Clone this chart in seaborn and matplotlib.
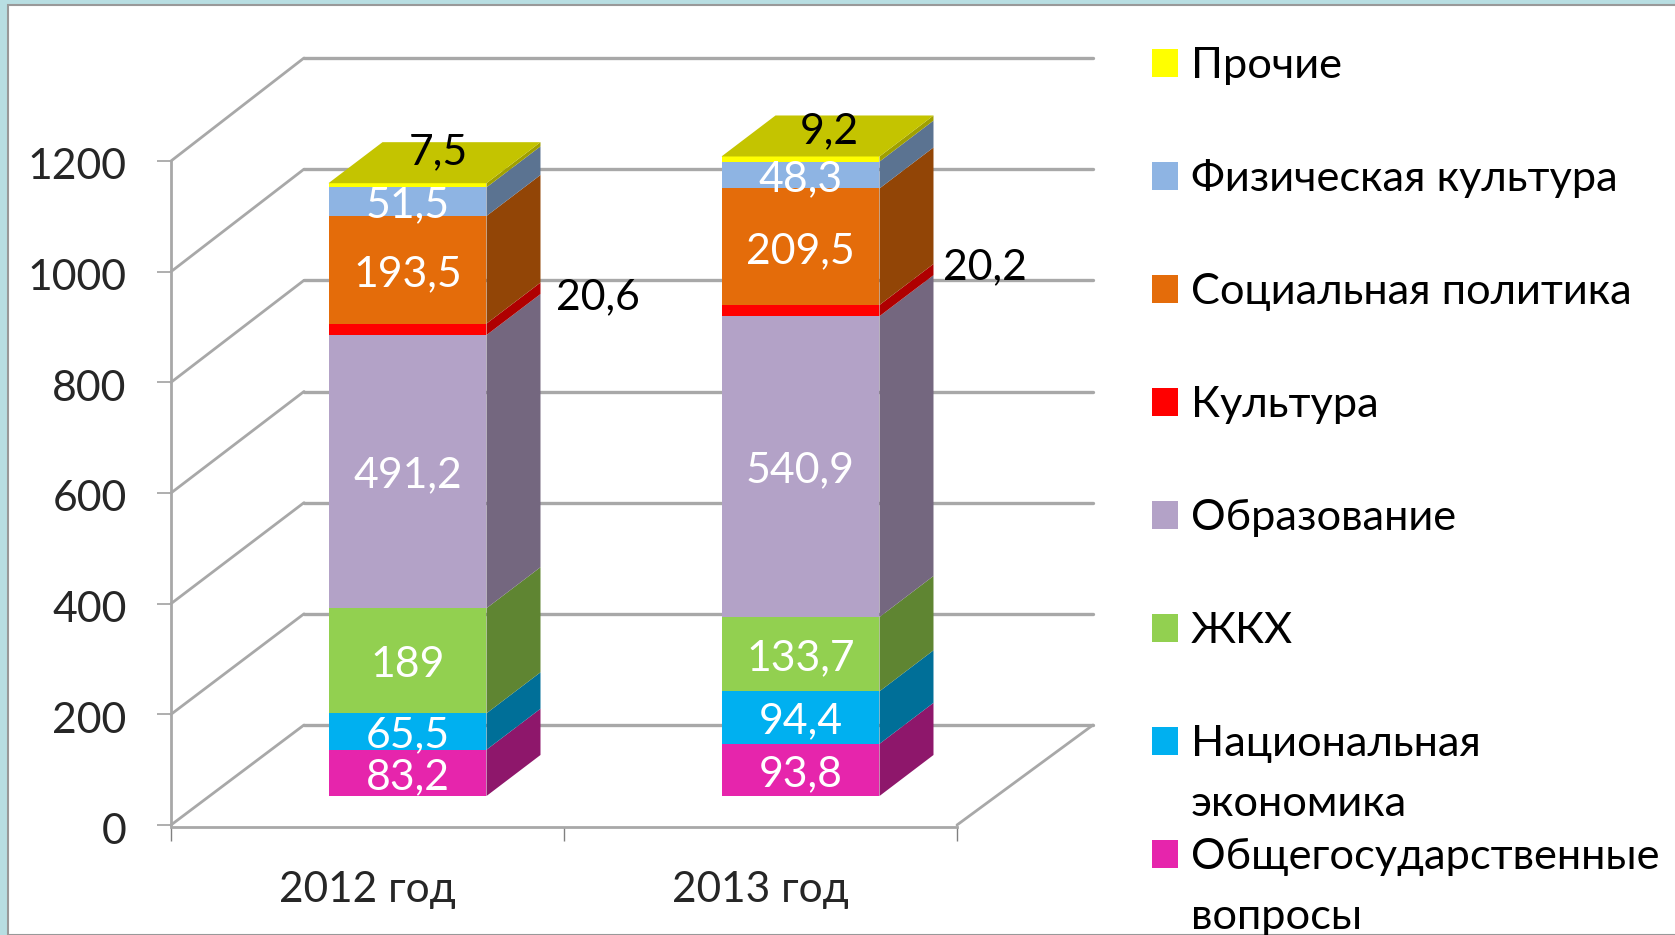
import matplotlib
matplotlib.use("Agg")
import matplotlib.pyplot as plt
import numpy as np
import seaborn as sns
from matplotlib.lines import Line2D
from matplotlib.patches import Polygon, Rectangle
from matplotlib.transforms import Affine2D, IdentityTransform

# ---- data (bottom of the stack first) ----
years = ["2012 год", "2013 год"]
series = ["Общегосударственные\nвопросы", "Национальная\nэкономика", "ЖКХ", "Образование",
          "Культура", "Социальная политика", "Физическая культура", "Прочие"]
v_gov = [83.2, 93.8]
v_econ = [65.5, 94.4]
v_zkh = [189, 133.7]
v_edu = [491.2, 540.9]
v_cult = [20.6, 20.2]
v_soc = [193.5, 209.5]
v_sport = [51.5, 48.3]
v_other = [7.5, 9.2]
y_ticks = [0, 200, 400, 600, 800, 1000, 1200]
values = [v_gov, v_econ, v_zkh, v_edu, v_cult, v_soc, v_sport, v_other]

front_colors = ["#E625AC", "#00B0F0", "#92D050", "#B3A2C7", "#FF0000", "#E46C0A", "#8EB4E3", "#FFFF00"]
side_colors = ["#8E176B", "#006F98", "#5F8532", "#74677F", "#AF0000", "#924506", "#5B7391", "#A0A000"]
top_color = "#C4C400"
GRID = "#A8A8A8"

W, H = 1675, 935
sns.set_style("white")
plt.rcParams["font.family"] = ["Lato", "Open Sans", "DejaVu Sans"]
FS = 30.8
LEG_FS = 31.2

fig = plt.figure(figsize=(W / 100, H / 100), dpi=100, facecolor="#B8DEE2")
fig.patches.append(Rectangle((8 / W, 0), 1, 1 - 5 / H, transform=fig.transFigure,
                             facecolor="white", edgecolor="#999999", lw=1.5, zorder=-5))

# front plane of the "3D" chart: left wall x=171..957, y=825..161
ax = fig.add_axes([171 / W, (H - 825) / H, (957 - 171) / W, (825 - 161) / H])
ax.patch.set_alpha(0)

# stacked bars drawn with seaborn
bottoms = np.zeros(len(years))
containers = []
for vals, col in zip(values, front_colors):
    sns.barplot(x=years, y=vals, bottom=bottoms, color=col, saturation=1, width=0.402,
                errorbar=None, ax=ax, order=years)
    containers.append(ax.containers[-1])
    bottoms = bottoms + np.array(vals, dtype=float)

ax.set_xlim(-0.5, 1.5)
ax.set_ylim(0, 1200)
fig.canvas.draw()

# axes styling
for s in ("top", "right"):
    ax.spines[s].set_visible(False)
for s in ("left", "bottom"):
    ax.spines[s].set_color(GRID)
    ax.spines[s].set_linewidth(2.0)
ax.spines["bottom"].set_position(("outward", 1.2))
ax.set_yticks(y_ticks)
ax.set_xticks([-0.5, 0.5, 1.5])
ax.set_xticklabels([])
ax.set_xticks([0, 1], labels=years, minor=True)
ax.tick_params(axis="y", length=10, width=1.3, color=GRID, pad=22, labelsize=FS, left=True)
ax.tick_params(axis="x", which="major", length=10, width=1.0, color="#808080", bottom=True)
ax.tick_params(axis="x", which="minor", length=0, pad=32, labelsize=30.5)
ax.set_xlabel("")
ax.set_ylabel("")
for lab in ax.get_yticklabels():
    lab.set_transform(lab.get_transform() + Affine2D().translate(0, -3))

# walls and floor
id_tr = IdentityTransform()
def line(xs, ys, lw=2.0):
    ax.add_line(Line2D(xs, ys, transform=id_tr, color=GRID, lw=lw, zorder=0.5, clip_on=False))

for v in y_ticks:
    fx, fy = ax.transData.transform((-0.5, v))
    rx, _ = ax.transData.transform((1.5, v))
    dy = 100 + 3 * v / 1200
    line([fx, fx + 133], [fy, fy + dy])
    line([fx + 133, rx + 136], [fy + dy, fy + dy], lw=2.4)
fx0, fy0 = ax.transData.transform((1.5, 0))
line([fx0, fx0 + 136], [fy0, fy0 + 100], lw=2.0)

# bars: shift to mid-depth, slightly taller scale than the wall, add side and top faces
_, base_y = ax.transData.transform((0, 0))
bar_tr = ax.transData + Affine2D().translate(40, -base_y).scale(1, 1.005).translate(0, base_y + 29)
DX, DY = 54, 41
for i, (cont, scol) in enumerate(zip(containers, side_colors)):
    for rect in cont.patches:
        rect.set_transform(bar_tr)
        rect.set_zorder(3)
        rect.set_clip_on(False)
        rect.set_edgecolor("none")
        x0, y0, w, h = rect.get_x(), rect.get_y(), rect.get_width(), rect.get_height()
        (ax_, ay_), (bx_, by_) = bar_tr.transform([(x0, y0), (x0 + w, y0 + h)])
        ax.add_patch(Polygon([(bx_, ay_), (bx_ + DX, ay_ + DY), (bx_ + DX, by_ + DY), (bx_, by_)],
                             closed=True, transform=id_tr, facecolor=scol, edgecolor="none",
                             zorder=3, clip_on=False))
        if i == len(containers) - 1:
            ax.add_patch(Polygon([(ax_, by_), (ax_ + DX, by_ + DY), (bx_ + DX, by_ + DY), (bx_, by_)],
                                 closed=True, transform=id_tr, facecolor=top_color, edgecolor="none",
                                 zorder=3, clip_on=False))

# data labels
special = {(0, 7): (31, 37), (1, 7): (29, 32), (0, 4): (190, 36), (1, 4): (184, 47)}
for i, (cont, vals) in enumerate(zip(containers, values)):
    for j, (rect, v) in enumerate(zip(cont.patches, vals)):
        cx = rect.get_x() + rect.get_width() / 2
        cy = rect.get_y() + rect.get_height() / 2
        px, py = bar_tr.transform((cx, cy))
        off = special.get((j, i))
        col = "black" if off else "white"
        if off:
            px, py = px + off[0], py + off[1]
        ax.text(px, py - 4, f"{v:g}".replace(".", ","), transform=id_tr, color=col, fontsize=FS,
                ha="center", va="center", zorder=6, clip_on=False)

# legend, top entry first
ROW0, ROW = 63, 113
for k, (label, col) in enumerate(zip(series[::-1], front_colors[::-1])):
    yc = ROW0 + k * ROW
    fig.patches.append(Rectangle((1152 / W, (H - yc - 14) / H), 26 / W, 28 / H,
                                 transform=fig.transFigure, facecolor=col, edgecolor="none"))
    fig.text(1191 / W, (H - yc - 3) / H, label.split("\n")[0], fontsize=LEG_FS, va="center", ha="left", color="black")
    if "\n" in label:
        fig.text(1191 / W, (H - yc - 63) / H, label.split("\n")[1], fontsize=LEG_FS, va="center", ha="left",
                 color="black")

fig.savefig("out.png", dpi=100, facecolor=fig.get_facecolor())
